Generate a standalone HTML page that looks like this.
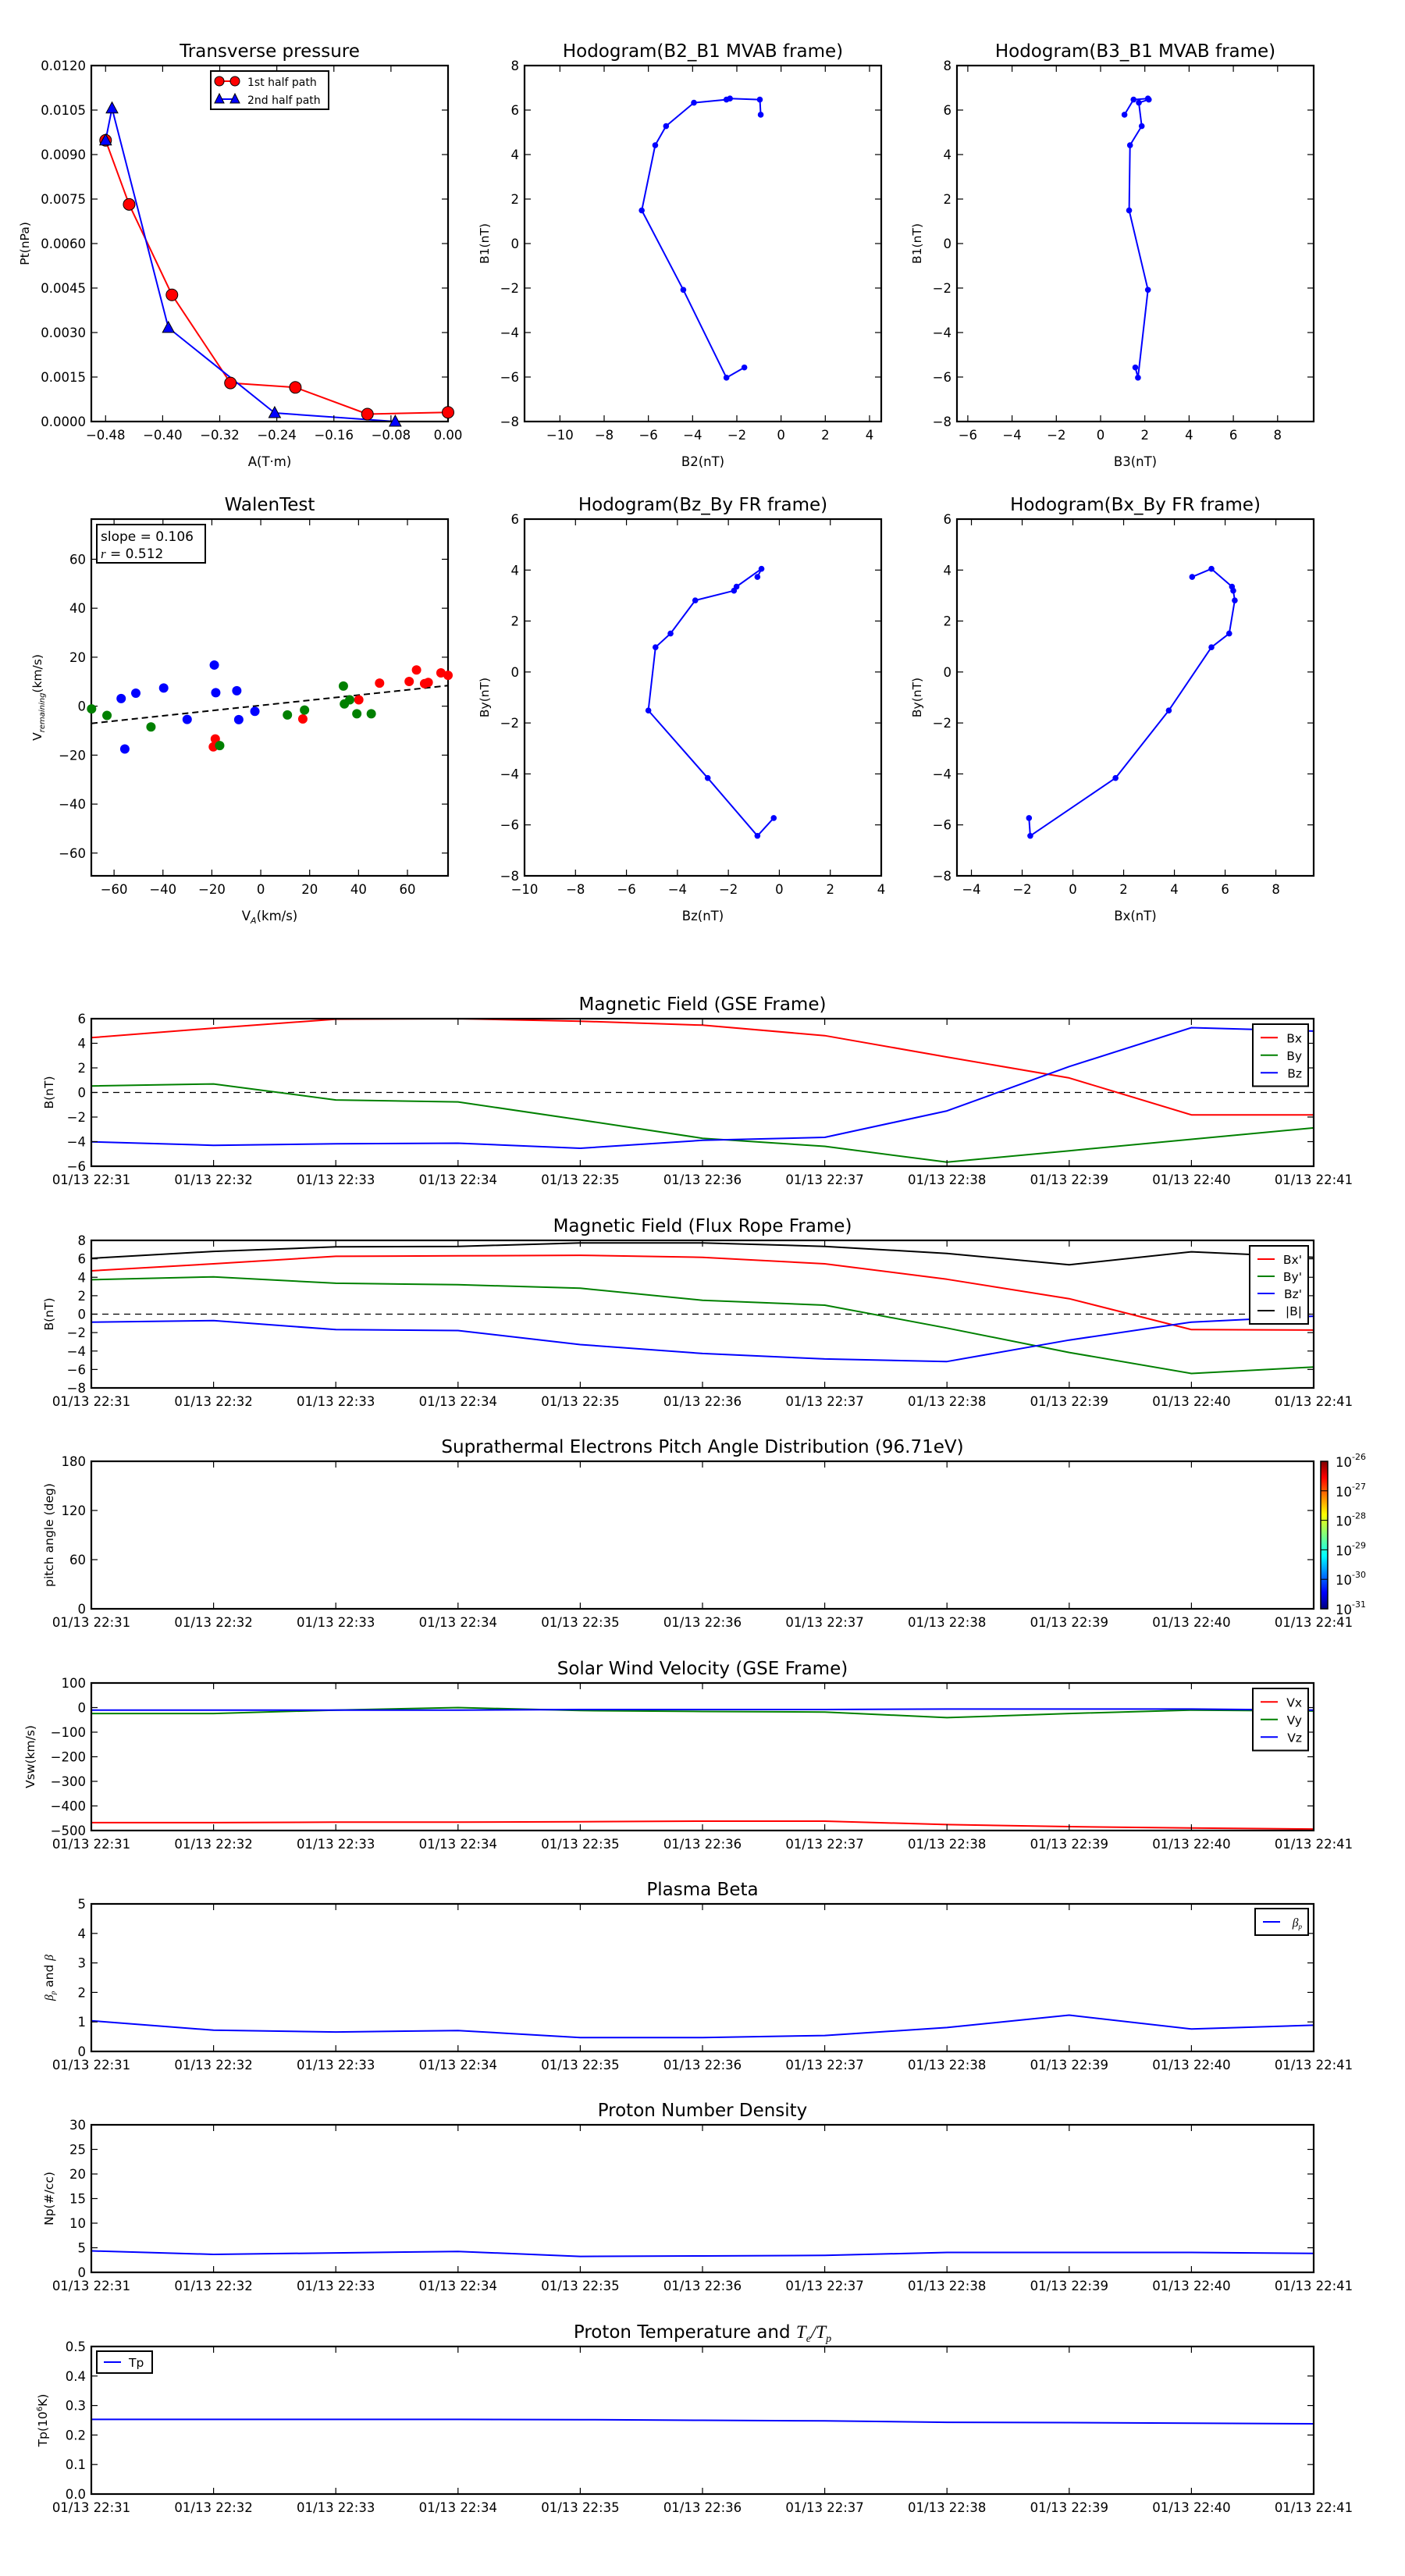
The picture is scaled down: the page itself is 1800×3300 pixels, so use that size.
<!DOCTYPE html>
<html><head><meta charset="utf-8"><style>
html,body{margin:0;padding:0;background:#fff;}
svg{display:block;font-family:"DejaVu Sans","Liberation Sans",sans-serif;}
</style></head><body>
<svg id="fig" xmlns="http://www.w3.org/2000/svg" width="1800" height="3300" viewBox="0 0 1800 3300">
<defs>
<linearGradient id="jet" x1="0" y1="1" x2="0" y2="0">
<stop offset="0" stop-color="#00007f"/><stop offset="0.11" stop-color="#0000ff"/><stop offset="0.36" stop-color="#00ffff"/><stop offset="0.5" stop-color="#7fff7f"/><stop offset="0.64" stop-color="#ffff00"/><stop offset="0.89" stop-color="#ff0000"/><stop offset="1" stop-color="#7f0000"/>
</linearGradient>
</defs>
</svg>
<script>
// ---------- data ----------
const ptA1 = [-0.48,-0.447,-0.387,-0.305,-0.214,-0.113,0.0];
const ptP1 = [0.00948,0.00732,0.00427,0.0013,0.00115,0.00025,0.00031];
const ptA2 = [-0.48,-0.471,-0.392,-0.243,-0.074];
const ptP2 = [0.00948,0.01056,0.00316,0.00029,0.0];

const mvB1 = [5.79,6.47,6.52,6.47,6.33,5.28,4.42,1.49,-2.08,-6.03,-5.57];
const mvB2 = [-0.92,-0.96,-2.31,-2.47,-3.94,-5.20,-5.69,-6.30,-4.42,-2.47,-1.66];
const mvB3 = [1.08,1.49,2.14,2.18,1.73,1.86,1.33,1.29,2.14,1.69,1.57];

const walRedX = [-19.4,-18.6,17.2,40.1,48.6,60.7,63.7,67.0,68.5,73.7,76.6];
const walRedY = [-16.6,-13.4,-5.2,2.6,9.4,10.1,14.8,9.2,9.7,13.6,12.6];
const walBlueX = [-57.1,-55.6,-51.1,-39.7,-30.1,-19.0,-18.4,-9.8,-9.0,-2.4];
const walBlueY = [3.1,-17.5,5.3,7.4,-5.4,16.8,5.5,6.3,-5.5,-2.1];
const walGreenX = [-69.2,-62.9,-44.9,-16.8,10.9,17.9,33.8,34.2,36.4,39.3,45.2];
const walGreenY = [-1.1,-3.8,-8.5,-16.1,-3.6,-1.6,8.2,0.9,2.6,-3.1,-3.1];
const walSlope = 0.106;
const walIntercept = 0.3;

const timeLabels = ["01/13 22:31","01/13 22:32","01/13 22:33","01/13 22:34","01/13 22:35","01/13 22:36","01/13 22:37","01/13 22:38","01/13 22:39","01/13 22:40","01/13 22:41"];
const gseBx = [4.46,5.23,5.96,6.0,5.8,5.47,4.62,2.88,1.18,-1.82,-1.82];
const gseBy = [0.53,0.69,-0.61,-0.77,-2.23,-3.73,-4.38,-5.67,-4.74,-3.81,-2.88];
const gseBz = [-4.01,-4.30,-4.18,-4.13,-4.54,-3.89,-3.65,-1.50,2.11,5.27,4.99];
const frBx = [4.70,5.46,6.27,6.32,6.38,6.16,5.46,3.78,1.68,-1.68,-1.73];
const frBy = [3.73,4.05,3.35,3.19,2.81,1.51,0.97,-1.51,-4.16,-6.43,-5.73];
const frBz = [-0.86,-0.70,-1.68,-1.78,-3.30,-4.27,-4.86,-5.14,-2.81,-0.86,-0.22];
const frBt = [6.05,6.81,7.30,7.35,7.73,7.73,7.35,6.59,5.35,6.76,6.16];
const swVx = [-468,-468,-466,-466,-464,-462,-462,-476,-484,-490,-494];
const swVy = [-24,-24,-10,0,-12,-16,-18,-41,-24,-10,-14];
const swVz = [-10,-10,-10,-10,-8,-8,-8,-6,-6,-6,-10];
const betaP = [1.04,0.72,0.66,0.71,0.47,0.47,0.54,0.81,1.23,0.76,0.89];
const densNp = [4.36,3.65,3.95,4.26,3.24,3.34,3.44,4.05,4.05,4.05,3.85];
const tempTp = [0.253,0.253,0.253,0.253,0.252,0.250,0.248,0.243,0.242,0.240,0.238];
const cbarLabels = ["-26","-27","-28","-29","-30","-31"];

// ---------- helpers ----------
const NS = "http://www.w3.org/2000/svg";
const svg = document.getElementById("fig");
function mk(tag, attrs, parent){
  const e = document.createElementNS(NS, tag);
  for (const k in attrs) e.setAttribute(k, attrs[k]);
  (parent||svg).appendChild(e);
  return e;
}
function fmtNum(v, d){ const s = v.toFixed(d); return s.replace("-", "\u2212"); }
function range(a,b,s){ const r=[]; const n=Math.round((b-a)/s); for(let i=0;i<=n;i++) r.push(+(a+i*s).toFixed(6)); return r; }

function makeAxes(o){
  const g = mk("g", {});
  
  
  const sx = v => o.x + (v - o.xmin) / (o.xmax - o.xmin) * o.w;
  const sy = v => o.y + o.h - (v - o.ymin) / (o.ymax - o.ymin) * o.h;
  const clip = mk("clipPath", {id: "clip-" + o.name}, g);
  mk("rect", {x:o.x, y:o.y, width:o.w, height:o.h}, clip);
  const plot = mk("g", {"clip-path": "url(#clip-" + o.name + ")"}, g);
  const tg = mk("g", {}, g);
  const t = mk("text", {x:o.x + o.w/2, y:o.y - 11, "text-anchor":"middle", "font-size":23}, g);
  
  
  if (o.titleHTML) t.innerHTML = o.titleHTML; else t.textContent = o.title;
  o.xticks.forEach((v,i) => {
    const px = sx(v);
    mk("line", {x1:px, x2:px, y1:o.y+o.h, y2:o.y+o.h-8, stroke:"#000", "stroke-width":1.2}, tg);
    mk("line", {x1:px, x2:px, y1:o.y, y2:o.y+8, stroke:"#000", "stroke-width":1.2}, tg);
    const lab = mk("text", {x:px, y:o.y+o.h+23, "text-anchor":"middle", "font-size":16.5}, tg);
    
    
    lab.textContent = o.xlabels ? o.xlabels[i] : fmtNum(v, o.xd||0);
  });
  o.yticks.forEach(v => {
    const py = sy(v);
    mk("line", {x1:o.x, x2:o.x+8, y1:py, y2:py, stroke:"#000", "stroke-width":1.2}, tg);
    mk("line", {x1:o.x+o.w, x2:o.x+o.w-8, y1:py, y2:py, stroke:"#000", "stroke-width":1.2}, tg);
    const lab = mk("text", {x:o.x-7, y:py+6, "text-anchor":"end", "font-size":16.5}, tg);
    
    
    lab.textContent = fmtNum(v, o.yd||0);
  });
  if (o.xlabel){
    const xl = mk("text", {x:o.x+o.w/2, y:o.y+o.h+57, "text-anchor":"middle", "font-size":16.5}, g);
    
    
    xl.innerHTML = o.xlabel;
  }
  if (o.ylabel){
    const yl = mk("text", {x:0, y:0, "text-anchor":"middle", "font-size":15.5, transform:"translate(" + (o.ylx) + "," + (o.y+o.h/2) + ") rotate(-90)"}, g);
    
    
    yl.innerHTML = o.ylabel;
  }
  const frame = mk("rect", {x:o.x, y:o.y, width:o.w, height:o.h, fill:"none", stroke:"#000", "stroke-width":2.2}, g);
  
  
  return {sx, sy, plot, g};
}
function polyline(ax, xs, ys, color, name, width){
  const pts = xs.map((x,i) => ax.sx(x).toFixed(1) + "," + ax.sy(ys[i]).toFixed(1)).join(" ");
  const p = mk("polyline", {points:pts, fill:"none", stroke:color, "stroke-width":width||2, "stroke-linejoin":"round"}, ax.plot);
  
  
  return p;
}
function dots(ax, xs, ys, color, r, name, edge){
  xs.forEach((x,i) => {
    const c = mk("circle", {cx:ax.sx(x), cy:ax.sy(ys[i]), r:r, fill:color, stroke:edge||"none", "stroke-width":1}, ax.g);
    
    
  });
}
function tri(ax, xs, ys, color, name){
  xs.forEach((x,i) => {
    const cx = ax.sx(x), cy = ax.sy(ys[i]);
    const p = mk("polygon", {points:(cx)+","+(cy-8)+" "+(cx-7.5)+","+(cy+6)+" "+(cx+7.5)+","+(cy+6), fill:color, stroke:"#000", "stroke-width":1}, ax.g);
    
    
  });
}
function legend(x, y, w, entries, gap){
  const g = mk("g", {});
  
  
  const h = entries.length * gap + 12;
  mk("rect", {x:x, y:y, width:w, height:h, fill:"#fff", stroke:"#000", "stroke-width":2}, g);
  entries.forEach((e,i) => {
    const cy = y + 14 + gap*i + gap/2 - 8;
    mk("line", {x1:x+10, x2:x+32, y1:cy, y2:cy, stroke:e.c, "stroke-width":2}, g);
    const t = mk("text", {x:x+w-8, y:cy+6, "text-anchor":"end", "font-size":15.5}, g);
    
    
    t.innerHTML = e.t;
  });
  return g;
}

// ---------- row 1 ----------
const axPt = makeAxes({name:"transverse-pressure", x:117, y:84, w:457, h:456, xmin:-0.5, xmax:0, ymin:0, ymax:0.012,
  xticks:range(-0.48,0,0.08), yticks:range(0,0.012,0.0015), xd:2, yd:4, title:"Transverse pressure",
  xlabel:"A(T\u00b7m)", ylabel:"Pt(nPa)", ylx:37});
polyline(axPt, ptA1, ptP1, "#f00", "first-half-path-line");
polyline(axPt, ptA2, ptP2, "#00f", "second-half-path-line");
dots(axPt, ptA1, ptP1, "#f00", 7.5, "first-half-marker", "#000");
tri(axPt, ptA2, ptP2, "#00f", "second-half-marker");
{
  const g = mk("g", {});
  
  
  mk("rect", {x:270, y:91, width:151, height:49, fill:"#fff", stroke:"#000", "stroke-width":2}, g);
  mk("line", {x1:281, x2:301, y1:104, y2:104, stroke:"#f00", "stroke-width":2}, g);
  mk("circle", {cx:281, cy:104, r:6, fill:"#f00", stroke:"#000"}, g);
  mk("circle", {cx:301, cy:104, r:6, fill:"#f00", stroke:"#000"}, g);
  mk("line", {x1:281, x2:301, y1:127, y2:127, stroke:"#00f", "stroke-width":2}, g);
  mk("polygon", {points:"281,120 275,132 287,132", fill:"#00f", stroke:"#000"}, g);
  mk("polygon", {points:"301,120 295,132 307,132", fill:"#00f", stroke:"#000"}, g);
  const t1 = mk("text", {x:317, y:110, "font-size":14}, g);
  
  
  t1.textContent = "1st half path";
  const t2 = mk("text", {x:317, y:133, "font-size":14}, g);
  
  
  t2.textContent = "2nd half path";
}

const axH1 = makeAxes({name:"hodogram-b2-b1", x:672, y:84, w:457, h:456, xmin:-11.6, xmax:4.53, ymin:-8, ymax:8,
  xticks:range(-10,4,2), yticks:range(-8,8,2), title:"Hodogram(B2_B1 MVAB frame)", xlabel:"B2(nT)", ylabel:"B1(nT)", ylx:626});
polyline(axH1, mvB2, mvB1, "#00f", "hodogram-line");
dots(axH1, mvB2, mvB1, "#00f", 3.8, "hodogram-point");

const axH2 = makeAxes({name:"hodogram-b3-b1", x:1226, y:84, w:457, h:456, xmin:-6.49, xmax:9.63, ymin:-8, ymax:8,
  xticks:range(-6,8,2), yticks:range(-8,8,2), title:"Hodogram(B3_B1 MVAB frame)", xlabel:"B3(nT)", ylabel:"B1(nT)", ylx:1180});
polyline(axH2, mvB3, mvB1, "#00f", "hodogram-line");
dots(axH2, mvB3, mvB1, "#00f", 3.8, "hodogram-point");

// ---------- row 2 ----------
const axW = makeAxes({name:"walen-test", x:117, y:665, w:457, h:457, xmin:-69.3, xmax:76.6, ymin:-69.3, ymax:76.4,
  xticks:range(-60,60,20), yticks:range(-60,60,20), title:"WalenTest",
  xlabel:"V<tspan font-style='italic' font-size='11' dy='4'>A</tspan><tspan dy='-4'>(km/s)</tspan>",
  ylabel:"V<tspan font-style='italic' font-size='10' dy='4'>remaining</tspan><tspan dy='-4'>(km/s)</tspan>", ylx:53});
dots(axW, walRedX, walRedY, "#f00", 6, "walen-point-red");
dots(axW, walBlueX, walBlueY, "#00f", 6, "walen-point-blue");
dots(axW, walGreenX, walGreenY, "#008000", 6, "walen-point-green");
{
  const xa = -69.3, xb = 76.6;
  const fit = mk("line", {x1:axW.sx(xa), y1:axW.sy(walSlope*xa+walIntercept), x2:axW.sx(xb), y2:axW.sy(walSlope*xb+walIntercept), stroke:"#000", "stroke-width":2, "stroke-dasharray":"8,5"}, axW.plot);
  
  
  const g = mk("g", {});
  
  
  mk("rect", {x:124, y:672, width:139, height:49, fill:"#fff", stroke:"#000", "stroke-width":2}, g);
  const a = mk("text", {x:129, y:693, "font-size":17}, g);
  
  
  a.textContent = "slope = 0.106";
  const b = mk("text", {x:129, y:715, "font-size":17}, g);
  
  
  b.innerHTML = "<tspan font-style='italic' font-family='Liberation Serif'>r</tspan> = 0.512";
}

const axH3 = makeAxes({name:"hodogram-bz-by", x:672, y:665, w:457, h:457, xmin:-10, xmax:4, ymin:-8, ymax:6,
  xticks:range(-10,4,2), yticks:range(-8,6,2), title:"Hodogram(Bz_By FR frame)", xlabel:"Bz(nT)", ylabel:"By(nT)", ylx:626});
const hzBz = frBz.slice().reverse(), hzBy = frBy.slice().reverse(), hzBx = frBx.slice().reverse();
polyline(axH3, hzBz, hzBy, "#00f", "hodogram-line");
dots(axH3, hzBz, hzBy, "#00f", 3.8, "hodogram-point");

const axH4 = makeAxes({name:"hodogram-bx-by", x:1226, y:665, w:457, h:457, xmin:-4.57, xmax:9.49, ymin:-8, ymax:6,
  xticks:range(-4,8,2), yticks:range(-8,6,2), title:"Hodogram(Bx_By FR frame)", xlabel:"Bx(nT)", ylabel:"By(nT)", ylx:1180});
polyline(axH4, hzBx, hzBy, "#00f", "hodogram-line");
dots(axH4, hzBx, hzBy, "#00f", 3.8, "hodogram-point");

// ---------- time series ----------
const tIdx = timeLabels.map((_,i) => i);
function tsAxes(name, top, ymin, ymax, yticks, title, ylabel, titleHTML, yd, ylx){
  return makeAxes({name:name, x:117, y:top, w:1566, h:189, xmin:0, xmax:10, ymin:ymin, ymax:ymax,
    xticks:tIdx, xlabels:timeLabels, yticks:yticks, yd:yd||0, title:title, titleHTML:titleHTML, ylabel:ylabel, ylx:ylx||68});
}
function zeroLine(ax){
  const l = mk("line", {x1:ax.sx(0), x2:ax.sx(10), y1:ax.sy(0), y2:ax.sy(0), stroke:"#000", "stroke-width":1.3, "stroke-dasharray":"8,6"}, ax.plot);
  
  
}
const axG = tsAxes("magnetic-field-gse", 1305, -6, 6, range(-6,6,2), "Magnetic Field (GSE Frame)", "B(nT)");
zeroLine(axG);
polyline(axG, tIdx, gseBx, "#f00", "bx-line");
polyline(axG, tIdx, gseBy, "#008000", "by-line");
polyline(axG, tIdx, gseBz, "#00f", "bz-line");
legend(1605, 1312, 71, [{c:"#f00",t:"Bx"},{c:"#008000",t:"By"},{c:"#00f",t:"Bz"}], 22.5);

const axF = tsAxes("magnetic-field-fr", 1589, -8, 8, range(-8,8,2), "Magnetic Field (Flux Rope Frame)", "B(nT)");
zeroLine(axF);
polyline(axF, tIdx, frBt, "#000", "bt-line");
polyline(axF, tIdx, frBx, "#f00", "bx-prime-line");
polyline(axF, tIdx, frBy, "#008000", "by-prime-line");
polyline(axF, tIdx, frBz, "#00f", "bz-prime-line");
legend(1601, 1596, 75, [{c:"#f00",t:"Bx'"},{c:"#008000",t:"By'"},{c:"#00f",t:"Bz'"},{c:"#000",t:"|B|"}], 22);

const axP = tsAxes("pitch-angle-distribution", 1872, 0, 180, range(0,180,60), "Suprathermal Electrons Pitch Angle Distribution (96.71eV)", "pitch angle (deg)");
{
  const cb = mk("rect", {x:1692, y:1872, width:9, height:189, fill:"url(#jet)", stroke:"#000", "stroke-width":1.5});
  
  
  cbarLabels.forEach((e,i) => {
    const py = 1872 + i*189/5;
    mk("line", {x1:1692, x2:1701, y1:py, y2:py, stroke:"#000", "stroke-width":1});
    const t = mk("text", {x:1711, y:py+7, "font-size":16.5});
    
    
    t.innerHTML = "10<tspan font-size='11' dy='-9'>" + e + "</tspan>";
  });
}

const axV = tsAxes("solar-wind-velocity", 2156, -500, 100, range(-500,100,100), "Solar Wind Velocity (GSE Frame)", "Vsw(km/s)", null, 0, 44);
polyline(axV, tIdx, swVx, "#f00", "vx-line");
polyline(axV, tIdx, swVy, "#008000", "vy-line");
polyline(axV, tIdx, swVz, "#00f", "vz-line");
legend(1605, 2163, 71, [{c:"#f00",t:"Vx"},{c:"#008000",t:"Vy"},{c:"#00f",t:"Vz"}], 22.5);

const axB = tsAxes("plasma-beta", 2439, 0, 5, range(0,5,1), "Plasma Beta",
  "<tspan font-style='italic' font-family='Liberation Serif'>\u03b2<tspan font-size='9' dy='3'>p</tspan></tspan><tspan dy='-3'> and </tspan><tspan font-style='italic' font-family='Liberation Serif'>\u03b2</tspan>");
polyline(axB, tIdx, betaP, "#00f", "beta-p-line");
legend(1608, 2445, 68, [{c:"#00f",t:"<tspan font-style='italic' font-family='Liberation Serif'>\u03b2<tspan font-size='9' dy='3'>p</tspan></tspan>"}], 22);

const axN = tsAxes("proton-number-density", 2722, 0, 30, range(0,30,5), "Proton Number Density", "Np(#/cc)");
polyline(axN, tIdx, densNp, "#00f", "np-line");

const axT = tsAxes("proton-temperature", 3006, 0, 0.5, range(0,0.5,0.1), "", "Tp(10<tspan font-size='10' dy='-6'>6</tspan><tspan dy='6'>K)</tspan>",
  "Proton Temperature and <tspan font-family='Liberation Serif' font-style='italic'>T<tspan font-size='14' dy='5'>e</tspan><tspan dy='-5'>/T</tspan><tspan font-size='14' dy='5'>p</tspan></tspan>", 1, 60);
polyline(axT, tIdx, tempTp, "#00f", "tp-line");
{
  const g = mk("g", {});
  
  
  mk("rect", {x:124, y:3012, width:71, height:28, fill:"#fff", stroke:"#000", "stroke-width":2}, g);
  mk("line", {x1:133, x2:155, y1:3026, y2:3026, stroke:"#00f", "stroke-width":2}, g);
  const t = mk("text", {x:165, y:3032, "font-size":15.5}, g);
  
  
  t.textContent = "Tp";
}
</script>
</body></html>
